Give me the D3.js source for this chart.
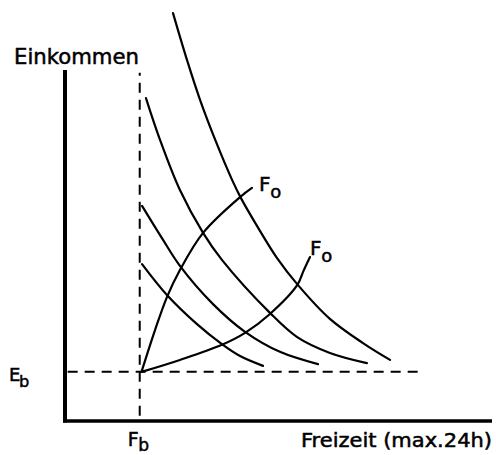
<!DOCTYPE html>
<html>
<head>
<meta charset="utf-8">
<script src="https://cdn.jsdelivr.net/npm/d3@7"></script>
<style>
  body { margin: 0; background: #fff; }
  text { font-family: "DejaVu Sans", sans-serif; fill: #000; stroke: #000; stroke-width: 0.5px; }
</style>
</head>
<body>
<div id="chart"></div>
<script>
// Freizeit in Stunden (x), Einkommen in Indexpunkten (y)
const maxFreizeit = 24;
const maxEinkommen = 100;
const Fb = 4.2;   // Mindestfreizeit
const Eb = 14;    // Mindesteinkommen

// Indifferenzkurven, von der höchsten zur niedrigsten
const kurve1x = [6.07, 6.86, 7.59, 8.49, 9.39, 9.89, 10.79, 11.92, 13.05, 14.89, 16.75, 18.27];
const kurve1y = [116.2, 102.8, 91.5, 79.5, 68.7, 63.5, 55.6, 46.4, 39.0, 29.1, 22.2, 17.4];
const kurve2x = [4.55, 5.34, 6.46, 7.76, 8.82, 11.52, 13.05, 14.89, 16.97];
const kurve2y = [92.0, 80.1, 65.8, 53.6, 45.9, 30.8, 23.9, 19.4, 16.5];
const kurve3x = [4.33, 5.45, 6.46, 8.32, 10.12, 12.08, 14.22];
const kurve3y = [61.3, 52.1, 44.2, 33.3, 25.4, 19.7, 16.2];
const kurve4x = [4.33, 5.73, 7.42, 8.82, 9.84, 11.13];
const kurve4y = [44.7, 35.9, 27.6, 21.9, 18.5, 15.7];

// Zwei Expansionspfade Fo
const fo1x = [4.3, 5.06, 5.73, 6.46, 7.76, 9.84, 10.51];
const fo1y = [14, 25.9, 35.3, 43.0, 53.6, 63.8, 66.4];
const fo2x = [4.3, 6.46, 8.82, 10.12, 11.52, 13.05, 13.4, 13.77];
const fo2y = [14, 17.4, 21.7, 25.1, 30.5, 38.7, 42.7, 46.7];

let width = 496;
let height = 455;

let svg = d3.select('#chart')
    .append('svg')
    .attr('width', width)
    .attr('height', height);

let x = d3.scaleLinear()
    .domain([0, maxFreizeit])
    .range([65, 492]);

let y = d3.scaleLinear()
    .domain([0, maxEinkommen])
    .range([421, 70]);

const zip = (xs, ys) => xs.map((v, i) => [v, ys[i]]);

let line = d3.line()
    .x(d => x(d[0]))
    .y(d => y(d[1]))
    .curve(d3.curveCatmullRom.alpha(0.5));

// Hilfslinien (gestrichelt)
svg.append('line')
    .attr('x1', x(Fb)).attr('x2', x(Fb))
    .attr('y1', y(1.5)).attr('y2', y(99.2))
    .attr('stroke', '#000').attr('stroke-width', 2)
    .attr('stroke-dasharray', '10,7');

svg.append('line')
    .attr('x1', x(0.15)).attr('x2', x(20.2))
    .attr('y1', y(Eb)).attr('y2', y(Eb))
    .attr('stroke', '#000').attr('stroke-width', 2)
    .attr('stroke-dasharray', '10,7');

// Achsen
svg.append('line')
    .attr('x1', x(0)).attr('x2', x(0))
    .attr('y1', y(0) + 1.5).attr('y2', y(maxEinkommen))
    .attr('stroke', '#000').attr('stroke-width', 4);

svg.append('line')
    .attr('x1', x(0) - 2).attr('x2', x(maxFreizeit))
    .attr('y1', y(0)).attr('y2', y(0))
    .attr('stroke', '#000').attr('stroke-width', 3.5);

// Kurven
let kurven = [
    zip(kurve1x, kurve1y),
    zip(kurve2x, kurve2y),
    zip(kurve3x, kurve3y),
    zip(kurve4x, kurve4y),
    zip(fo1x, fo1y),
    zip(fo2x, fo2y)
];

svg.selectAll('.kurve')
    .data(kurven)
    .enter().append('path')
    .attr('class', 'kurve')
    .attr('d', line)
    .attr('fill', 'none')
    .attr('stroke', '#000')
    .attr('stroke-width', 2.2)
    .attr('stroke-linecap', 'round');

// Beschriftungen
svg.append('text')
    .attr('x', 14).attr('y', 64)
    .attr('font-size', 21)
    .attr('textLength', 125)
    .attr('lengthAdjust', 'spacingAndGlyphs')
    .text('Einkommen');

svg.append('text')
    .attr('x', 301).attr('y', 447)
    .attr('font-size', 19)
    .attr('textLength', 191)
    .attr('lengthAdjust', 'spacingAndGlyphs')
    .text('Freizeit (max.24h)');

// Buchstabe mit tiefgestelltem Index, als zwei Texte
function label(px, py, big, small, size, dy) {
    svg.append('text')
        .attr('x', px).attr('y', py)
        .attr('font-size', size)
        .text(big);
    svg.append('text')
        .attr('x', px + size * 0.56).attr('y', py + dy)
        .attr('font-size', size * 0.9)
        .text(small);
}

label(9, 381, 'E', 'b', 18, 6);
label(x(Fb) - 12, 446, 'F', 'b', 19, 5);
label(x(fo1x[fo1x.length - 1]) + 7, y(fo1y[fo1y.length - 1]) + 3, 'F', 'o', 20, 7);
label(x(fo2x[fo2x.length - 1]) + 0, y(fo2y[fo2y.length - 1]) - 2, 'F', 'o', 20, 7);
</script>
</body>
</html>
